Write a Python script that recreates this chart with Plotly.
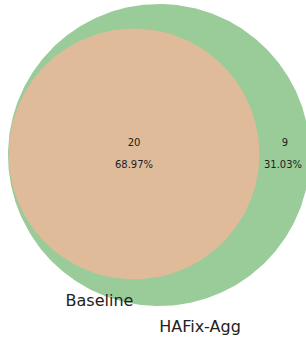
import numpy as np
import plotly.graph_objects as go

set_names = ["Baseline", "HAFix-Agg"]
set_sizes = [20, 29]
region_counts = ["20", "9"]
region_pcts = ["68.97%", "31.03%"]

W, H = 306, 342
k = 151 / np.sqrt(29)

def circle(cx, cy, r, n=400):
    t = np.linspace(0, 2 * np.pi, n)
    return cx + r * np.cos(t), cy + r * np.sin(t)

fig = go.Figure()

# HAFix-Agg (larger) circle
gx, gy = circle(159, 155, k * np.sqrt(set_sizes[1]))
fig.add_trace(go.Scatter(x=gx, y=gy, mode="lines", fill="toself",
                         fillcolor="#99CC99", line=dict(width=0),
                         hoverinfo="skip", showlegend=False))
# Baseline circle (overlap region)
bx, by = circle(134, 154, k * np.sqrt(set_sizes[0]))
fig.add_trace(go.Scatter(x=bx, y=by, mode="lines", fill="toself",
                         fillcolor="#E0BB99", line=dict(width=0),
                         hoverinfo="skip", showlegend=False))

# region labels
fig.add_trace(go.Scatter(
    x=[134, 285, 134, 283], y=[143, 143, 165, 165],
    text=[region_counts[0], region_counts[1], region_pcts[0], region_pcts[1]],
    mode="text", textfont=dict(family="DejaVu Sans", size=10, color="#222222"),
    hoverinfo="skip", showlegend=False, cliponaxis=False))

# set labels
fig.add_trace(go.Scatter(
    x=[99.5, 200], y=[302, 328], text=set_names, mode="text",
    textfont=dict(family="DejaVu Sans", size=16, color="#222222"),
    hoverinfo="skip", showlegend=False, cliponaxis=False))

fig.update_layout(
    width=W, height=H, margin=dict(l=0, r=0, t=0, b=0),
    paper_bgcolor="white", plot_bgcolor="white",
    xaxis=dict(range=[0, W], visible=False, fixedrange=True),
    yaxis=dict(range=[H, 0], visible=False, fixedrange=True),
)
fig.write_html("out.html", config={"displayModeBar": False},
               post_script="document.body.style.margin='0';document.body.style.padding='0';")
